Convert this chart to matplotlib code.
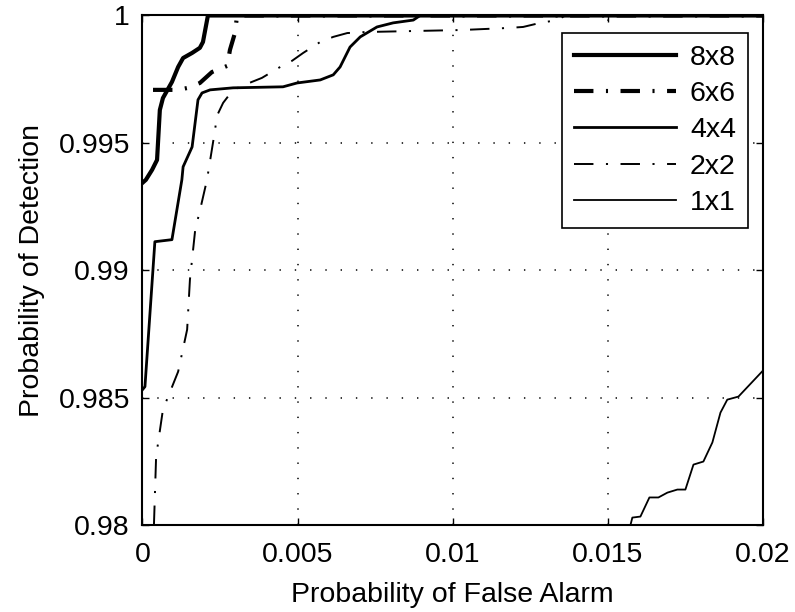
import matplotlib
matplotlib.use('Agg')
import matplotlib.pyplot as plt

plt.rcParams['font.family'] = ['Liberation Sans', 'DejaVu Sans']
plt.rcParams['lines.scale_dashes'] = False

# ROC curves
pfa_8x8 = [0.0, 0.00011, 0.00031, 0.00047, 0.00056, 0.00066, 0.00095, 0.00115,
           0.00131, 0.0016, 0.00185, 0.00195, 0.00211, 0.02]
pd_8x8 = [0.99343, 0.99355, 0.99394, 0.99433, 0.99629, 0.99676, 0.99739, 0.99798,
          0.99833, 0.99853, 0.99873, 0.99896, 1.0, 1.0]

pfa_6x6 = [0.00034, 0.00115, 0.00147, 0.00185, 0.00224, 0.00273, 0.00282,
           0.00298, 0.00305, 0.02]
pd_6x6 = [0.99708, 0.99708, 0.99716, 0.99735, 0.99778, 0.99802, 0.99865,
          0.99931, 1.0, 1.0]

pfa_4x4 = [0.0, 0.00008, 0.0004, 0.00095, 0.00127, 0.00131, 0.0016, 0.00179,
           0.00192, 0.00218, 0.00292, 0.00453, 0.00498, 0.00573, 0.00615,
           0.00637, 0.00669, 0.00702, 0.00756, 0.00808, 0.00873, 0.00895, 0.02]
pd_4x4 = [0.98531, 0.98543, 0.99112, 0.9912, 0.99355, 0.99406, 0.99484, 0.99669,
          0.99696, 0.99708, 0.99716, 0.9972, 0.99735, 0.99747, 0.99767,
          0.99798, 0.99876, 0.99916, 0.99955, 0.99971, 0.99982, 1.0, 1.0]

pfa_2x2 = [0.00037, 0.00044, 0.00066, 0.00115, 0.00144, 0.00153, 0.0017,
           0.00185, 0.00208, 0.00234, 0.0024, 0.0026, 0.00292, 0.00344,
           0.00385, 0.00444, 0.00482, 0.00518, 0.00573, 0.00615, 0.0066,
           0.00718, 0.00873, 0.0103, 0.01179, 0.01227, 0.01282, 0.01337,
           0.01363, 0.02]
pd_2x2 = [0.98, 0.98269, 0.98453, 0.98602, 0.98767, 0.98963, 0.99159,
          0.99233, 0.99355, 0.99551, 0.99606, 0.99657, 0.99708, 0.99735,
          0.99755, 0.99798, 0.99822, 0.99853, 0.99896, 0.99916, 0.99931,
          0.99935, 0.99939, 0.99943, 0.99951, 0.99955, 0.99971, 0.99982,
          1.0, 1.0]

pfa_1x1 = [0.01573, 0.01579, 0.01605, 0.01634, 0.01663, 0.01692, 0.01724,
           0.0175, 0.01776, 0.01808, 0.01837, 0.01863, 0.01885, 0.01921, 0.02]
pd_1x1 = [0.98, 0.98029, 0.98033, 0.98108, 0.98108, 0.98127, 0.98139,
          0.98139, 0.98237, 0.98249, 0.98324, 0.98441, 0.98492, 0.98504,
          0.98606]

labels = ['8x8', '6x6', '4x4', '2x2', '1x1']
x_ticks = [0, 0.005, 0.01, 0.015, 0.02]
x_ticklabels = ['0', '0.005', '0.01', '0.015', '0.02']
y_ticks = [0.98, 0.985, 0.99, 0.995, 1.0]
y_ticklabels = ['0.98', '0.985', '0.99', '0.995', '1']

dashdot = (0, (14, 9, 1.5, 9))

fig = plt.figure(figsize=(7.95, 6.12), dpi=100)
ax = fig.add_axes([0.1792, 0.1422, 0.7805, 0.8325])

ax.plot(pfa_8x8, pd_8x8, color='black', lw=3.0, ls='-', label=labels[0])
ax.plot(pfa_6x6, pd_6x6, color='black', lw=3.0, ls=dashdot, label=labels[1])
ax.plot(pfa_4x4, pd_4x4, color='black', lw=2.0, ls='-', label=labels[2])
ax.plot(pfa_2x2, pd_2x2, color='black', lw=1.4, ls=dashdot, label=labels[3])
ax.plot(pfa_1x1, pd_1x1, color='black', lw=1.3, ls='-', label=labels[4])

ax.set_xlim(0, 0.02)
ax.set_ylim(0.98, 1.0)
ax.set_xticks(x_ticks)
ax.set_xticklabels(x_ticklabels)
ax.set_yticks(y_ticks)
ax.set_yticklabels(y_ticklabels)
ax.tick_params(direction='in', top=True, right=True, length=5, width=1,
               labelsize=20.5)
ax.tick_params(axis='x', pad=12)
ax.tick_params(axis='y', pad=9)
ax.grid(True, color='black', linestyle=(0, (1, 10)), linewidth=1.1)
for sp in ax.spines.values():
    sp.set_linewidth(1.5)

ax.set_xlabel('Probability of False Alarm', fontsize=20.5, labelpad=10)
ax.set_ylabel('Probability of Detection', fontsize=20.5, labelpad=10)

leg = ax.legend(loc='upper right', bbox_to_anchor=(0.9758, 0.9657),
                borderaxespad=0, fontsize=20.5, fancybox=False, framealpha=1,
                edgecolor='black', handlelength=3.6, handletextpad=0.48,
                labelspacing=0.36, borderpad=0.42)
leg.get_frame().set_linewidth(1.2)

fig.savefig('out.png', dpi=100)
